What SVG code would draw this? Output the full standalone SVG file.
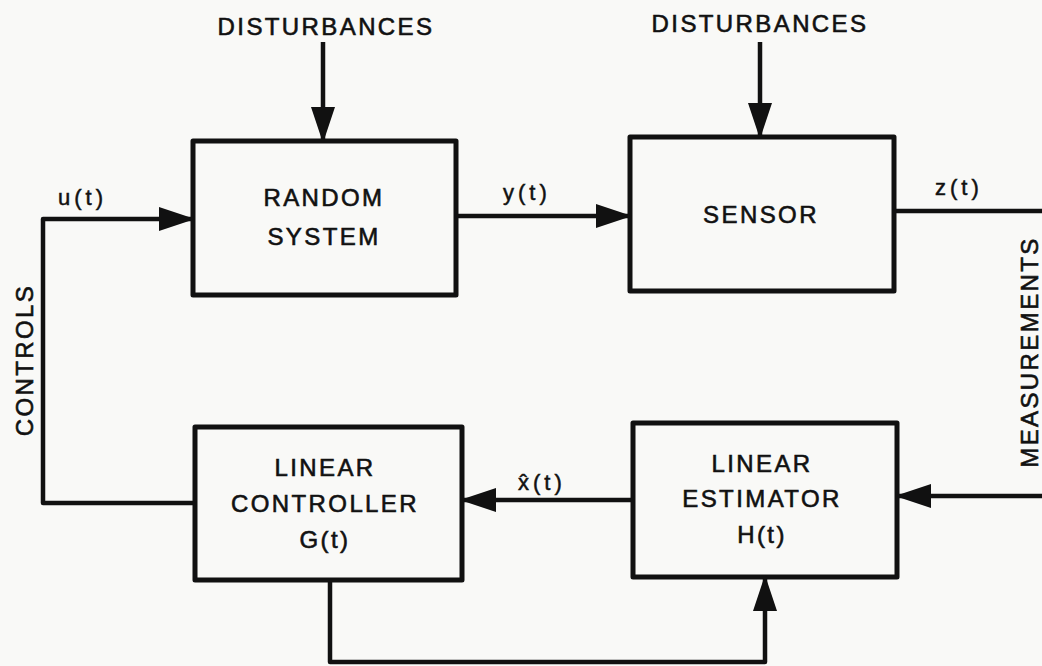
<svg xmlns="http://www.w3.org/2000/svg" width="1042" height="666" viewBox="0 0 1042 666">
<style>
.box{fill:none;stroke:#111;stroke-width:5;stroke-linejoin:round}
.ln{fill:none;stroke:#111;stroke-width:4.5;stroke-linejoin:round}
.t{font-family:"Liberation Sans",Arial,sans-serif;font-size:24px;fill:#111;stroke:#111;stroke-width:0.6;text-anchor:middle;letter-spacing:2.4px}
.lab{font-family:"Liberation Sans",Arial,sans-serif;font-size:22px;fill:#111;stroke:#111;stroke-width:0.5;letter-spacing:4px}
</style>
<defs>
<marker id="ah" markerUnits="userSpaceOnUse" markerWidth="36" markerHeight="24" refX="34" refY="12" orient="auto">
<path d="M0,0 L36,12 L0,24 z" fill="#111"/>
</marker>
</defs>
<rect width="1042" height="666" fill="#f9f9f7"/>
<g id="connectors">
<line class="ln" x1="323" y1="42" x2="323" y2="141" marker-end="url(#ah)"/>
<line class="ln" x1="760" y1="42" x2="760" y2="137" marker-end="url(#ah)"/>
<polyline class="ln" points="195,503 43,503 43,219 193,219" marker-end="url(#ah)"/>
<line class="ln" x1="456" y1="216" x2="630" y2="216" marker-end="url(#ah)"/>
<polyline class="ln" points="894,211 1048,211 1048,496 897,496" marker-end="url(#ah)"/>
<line class="ln" x1="633" y1="500" x2="462" y2="500" marker-end="url(#ah)"/>
<polyline class="ln" points="330,580 330,662 765,662 765,577" marker-end="url(#ah)"/>
</g>
<g id="labels">
<text class="t" x="326" y="35">DISTURBANCES</text>
<text class="t" x="760" y="32">DISTURBANCES</text>
<text class="lab" x="58" y="205">u(t)</text>
<text class="lab" x="503" y="200">y(t)</text>
<text class="lab" x="935" y="195">z(t)</text>
<text class="lab" x="518" y="490">x̂(t)</text>
<text class="t" transform="translate(33,360) rotate(-90)">CONTROLS</text>
<text class="t" transform="translate(1038,352) rotate(-90)">MEASUREMENTS</text>
</g>
<g id="random-system">
<rect class="box" x="193" y="141" width="263" height="154"/>
<text class="t" x="324" y="206">RANDOM</text>
<text class="t" x="324" y="245">SYSTEM</text>
</g>
<g id="sensor">
<rect class="box" x="630" y="137" width="264" height="154"/>
<text class="t" x="761" y="223">SENSOR</text>
</g>
<g id="linear-controller">
<rect class="box" x="195" y="427" width="267" height="153"/>
<text class="t" x="325" y="476">LINEAR</text>
<text class="t" x="325" y="512">CONTROLLER</text>
<text class="t" x="325" y="548">G(t)</text>
</g>
<g id="linear-estimator">
<rect class="box" x="633" y="423" width="264" height="154"/>
<text class="t" x="762" y="472">LINEAR</text>
<text class="t" x="762" y="507">ESTIMATOR</text>
<text class="t" x="762" y="543">H(t)</text>
</g>
</svg>
